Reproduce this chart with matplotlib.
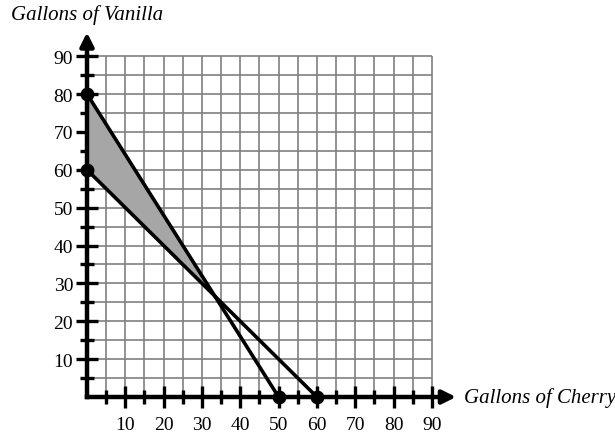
import numpy as np
import matplotlib.pyplot as plt

plt.rcParams['font.family'] = ['Liberation Serif', 'DejaVu Serif']

# constraint lines, as endpoints
line_a_x = [0, 50]
line_a_y = [80, 0]
line_b_x = [0, 60]
line_b_y = [60, 0]
vertex_x = [0, 0, 50, 60]
vertex_y = [80, 60, 0, 0]

major_ticks = [10, 20, 30, 40, 50, 60, 70, 80, 90]
minor_ticks = [5, 15, 25, 35, 45, 55, 65, 75, 85]
grid_vals = np.arange(5, 95, 5)

x_label = 'Gallons of Cherry'
y_label = 'Gallons of Vanilla'

fig = plt.figure(figsize=(6.15, 4.35), dpi=100)
ax = fig.add_axes([0.129, 0.0676, 0.617, 0.862])
ax.set_xlim(-2, 97)
ax.set_ylim(-2, 97)

# grid only covers the 0..90 square
ax.vlines(grid_vals, 0, 90, color='#808080', lw=1.2, zorder=1)
ax.hlines(grid_vals, 0, 90, color='#808080', lw=1.2, zorder=1)

# shaded region between the two lines
xs = np.linspace(0, 100 / 3, 50)
ya = np.interp(xs, line_a_x, line_a_y)
yb = np.interp(xs, line_b_x, line_b_y)
ax.fill_between(xs, yb, ya, color='#a6a6a6', zorder=2, lw=0)

ax.plot(line_a_x, line_a_y, color='black', lw=2.6, zorder=3)
ax.plot(line_b_x, line_b_y, color='black', lw=2.6, zorder=3)
ax.plot(vertex_x, vertex_y, 'o', color='black', ms=9, zorder=6, clip_on=False)

for s in ['top', 'right']:
    ax.spines[s].set_visible(False)
for s in ['left', 'bottom']:
    ax.spines[s].set_position(('data', 0))
    ax.spines[s].set_bounds(0, 90)
    ax.spines[s].set_linewidth(3.2)
    ax.spines[s].set_zorder(5)

ax.annotate('', xy=(97, 0), xytext=(89, 0),
            arrowprops=dict(arrowstyle='-|>', color='black', lw=3.2,
                            mutation_scale=20), annotation_clip=False)
ax.annotate('', xy=(0, 97), xytext=(0, 89),
            arrowprops=dict(arrowstyle='-|>', color='black', lw=3.2,
                            mutation_scale=20), annotation_clip=False)

ax.set_xticks(major_ticks)
ax.set_yticks(major_ticks)
ax.set_xticks(minor_ticks, minor=True)
ax.set_yticks(minor_ticks, minor=True)
ax.tick_params(which='major', direction='inout', length=16, width=2.4,
               labelsize=14, pad=2)
ax.tick_params(which='minor', direction='inout', length=10, width=2.4)
ax.tick_params(axis='x', which='major', pad=6)

fig.text(0.018, 0.965, y_label, style='italic', fontsize=15, va='center', ha='left')
ax.text(98.3, 0, x_label, style='italic', fontsize=15, va='center', ha='left',
        clip_on=False)

fig.savefig('out.png', dpi=100)
